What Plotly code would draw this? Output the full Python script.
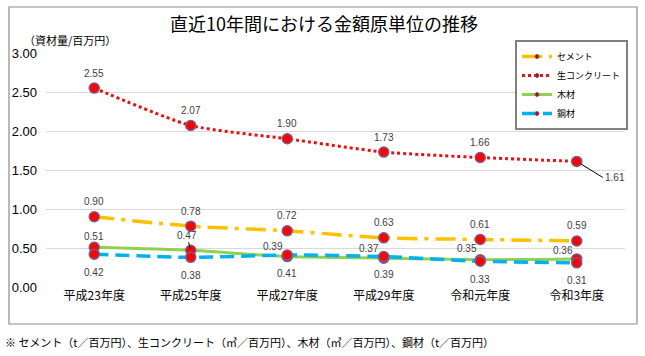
import plotly.graph_objects as go

categories = ["平成23年度", "平成25年度", "平成27年度", "平成29年度", "令和元年度", "令和3年度"]
cement = [0.90, 0.78, 0.72, 0.63, 0.61, 0.59]
concrete = [2.55, 2.07, 1.90, 1.73, 1.66, 1.61]
wood = [0.51, 0.47, 0.39, 0.37, 0.35, 0.36]
steel = [0.42, 0.38, 0.41, 0.39, 0.33, 0.31]
y_ticks = [0.0, 0.5, 1.0, 1.5, 2.0, 2.5, 3.0]

W, H = 645, 356
L, R, T, B = 46, 20, 53, 69
pw, ph = W - L - R, H - T - B

def px_x(p):
    return (p - L) / pw

def px_y(p):
    return (H - B - p) / ph

FONT = "Noto Sans CJK JP, Noto Sans, sans-serif"
marker = dict(size=10, color="#ff0000", line=dict(color="#7a5c8a", width=1.5))

fig = go.Figure()
series = [
    ("セメント", cement, dict(color="#ffc000", width=3.5, dash="20px,7px,4px,7px")),
    ("生コンクリート", concrete, dict(color="#e81010", width=3, dash="3px,3px")),
    ("木材", wood, dict(color="#92d050", width=3)),
    ("鋼材", steel, dict(color="#00b0f0", width=3.5, dash="14px,7px")),
]
for name, vals, line in series:
    fig.add_trace(go.Scatter(
        x=categories, y=vals, name=name, mode="lines+markers",
        line=dict(shape="spline", smoothing=0.6, **line),
        marker=marker, showlegend=False,
    ))
for name, vals, line in series:
    fig.add_trace(go.Scatter(
        x=[None], y=[None], name=name, mode="lines+markers",
        line=dict(**line),
        marker=dict(size=4, color="#c00000", line=dict(color="#7a5c8a", width=1)),
        showlegend=True,
    ))

lab_font = dict(size=10, color="#404040", family="Liberation Sans, Arial")
ann = []
for vals in (cement, concrete):
    for i, v in enumerate(vals):
        if vals is concrete and i == 5:
            continue
        ann.append(dict(x=categories[i], y=v, text=f"{v:.2f}", showarrow=False,
                        yshift=15, font=lab_font))
ann.append(dict(x=categories[5], y=concrete[5], text=f"{concrete[5]:.2f}", showarrow=True,
                arrowhead=0, arrowwidth=1, arrowcolor="#000", ax=26, ay=16,
                xanchor="left", standoff=5, font=lab_font))
wood_off = [(0, 11), (-4, 15), (-14, 10), (-15, 10), (-13, 11), (-14, 8)]
for i, v in enumerate(wood):
    dx, dy = wood_off[i]
    if i == 1:
        ann.append(dict(x=categories[i], y=v, text=f"{v:.2f}", showarrow=True,
                        arrowhead=0, arrowwidth=1, arrowcolor="#000", ax=-4, ay=-15,
                        standoff=2, font=lab_font))
    else:
        ann.append(dict(x=categories[i], y=v, text=f"{v:.2f}", showarrow=False,
                        xshift=dx, yshift=dy, font=lab_font))
for i, v in enumerate(steel):
    ann.append(dict(x=categories[i], y=v, text=f"{v:.2f}", showarrow=False,
                    yshift=-18, font=lab_font))

ann.append(dict(xref="paper", yref="paper", x=px_x(22), y=px_y(40), xanchor="left",
                yanchor="middle", text="（資材量/百万円）", showarrow=False,
                font=dict(size=11, color="#000", family=FONT)))
ann.append(dict(xref="paper", yref="paper", x=px_x(3), y=px_y(342), xanchor="left",
                yanchor="middle", showarrow=False,
                text="※ セメント（t／百万円）、生コンクリート（㎥／百万円）、木材（㎥／百万円）、鋼材（t／百万円）",
                font=dict(size=11, color="#000", family=FONT)))

fig.update_layout(
    width=W, height=H,
    margin=dict(l=L, r=R, t=T, b=B, autoexpand=False),
    paper_bgcolor="white", plot_bgcolor="white",
    title=dict(text="直近10年間における金額原単位の推移", x=px_x(324), xref="paper",
               y=1 - 25 / H, yanchor="middle", xanchor="center",
               font=dict(size=18, color="#000", family=FONT)),
    font=dict(family=FONT),
    showlegend=True,
    legend=dict(x=px_x(515), y=px_y(40), xanchor="left", yanchor="top",
                bgcolor="white", bordercolor="#808080", borderwidth=2,
                font=dict(size=9, color="#000", family=FONT),
                itemwidth=30, tracegroupgap=0),
    annotations=ann,
    shapes=[dict(type="rect", xref="paper", yref="paper",
                 x0=px_x(9), x1=px_x(637), y0=px_y(324), y1=px_y(7),
                 line=dict(color="#8c8c8c", width=1.2), layer="below")],
)
fig.update_xaxes(type="category", range=[-0.5, 5.5], showgrid=False, showline=False,
                 zeroline=False, ticks="", tickfont=dict(size=12, color="#000", family=FONT))
fig.update_yaxes(range=[0, 3], tickvals=y_ticks, tickformat=".2f", showgrid=True,
                 gridcolor="#d9d9d9", gridwidth=1, zeroline=False, showline=False,
                 ticks="", ticklabelstandoff=8,
                 tickfont=dict(size=13, color="#000", family="Liberation Sans, Arial"))
fig.write_html("out.html", config={"displayModeBar": False},
               post_script="document.body.style.margin='0';document.body.style.overflow='hidden';")
